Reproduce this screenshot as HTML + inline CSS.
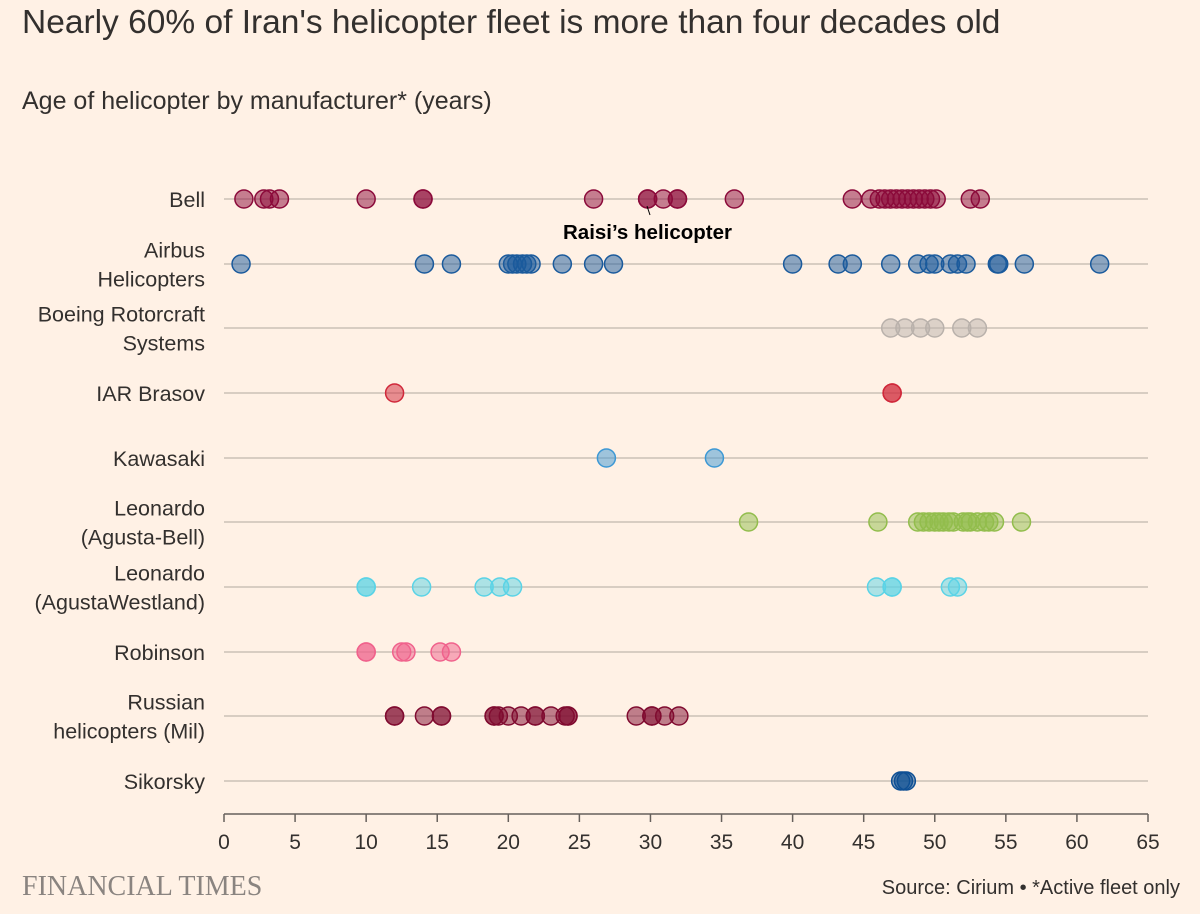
<!DOCTYPE html>
<html><head><meta charset="utf-8"><style>
body{margin:0;background:#fff1e5;font-family:"Liberation Sans",sans-serif;}
svg{display:block}
</style></head><body>
<svg width="1200" height="914" id="c">
<rect width="1200" height="914" fill="#fff1e5"/>
<text x="22" y="33" font-size="33.5" fill="#33302e">Nearly 60% of Iran's helicopter fleet is more than four decades old</text>
<text x="22" y="109" font-size="25" fill="#33302e">Age of helicopter by manufacturer* (years)</text>
<g id="grid"></g><g id="marks"></g>
<text x="563" y="239" font-size="20.5" font-weight="bold" fill="#000">Raisi’s helicopter</text>
<line x1="647" y1="206" x2="650" y2="215" stroke="#000" stroke-width="1"/>
<text x="22" y="895" font-size="28" font-family="Liberation Serif,serif" fill="#8a8480">FINANCIAL TIMES</text>
<text x="1180" y="894" font-size="20" fill="#33302e" text-anchor="end">Source: Cirium • *Active fleet only</text>
</svg>
<script>
const categories=["Bell","Airbus|Helicopters","Boeing Rotorcraft|Systems","IAR Brasov","Kawasaki","Leonardo|(Agusta-Bell)","Leonardo|(AgustaWestland)","Robinson","Russian|helicopters (Mil)","Sikorsky"];
const bell=[1.4,2.8,3.2,3.9,10,14,14,26,29.8,29.8,30.9,31.9,31.9,35.9,44.2,45.5,46.1,46.5,46.9,47.3,47.7,48.1,48.5,48.9,49.3,49.7,50.1,52.5,53.2];
const airbus=[1.2,14.1,16,20,20.3,20.6,21,21.3,21.6,23.8,26,27.4,40,43.2,44.2,46.9,48.8,49.6,50,51.1,51.6,52.2,54.4,54.5,56.3,61.6];
const boeing=[46.9,47.9,49,50,51.9,53];
const iar=[12,47,47];
const kawasaki=[26.9,34.5];
const leoAB=[36.9,46,48.8,49.2,49.6,50,50.3,50.6,51,51.3,52,52.5,52.3,53,53.5,53.8,54.2,56.1];
const leoAW=[10,10,13.9,18.3,19.4,20.3,45.9,47,47,51.1,51.6];
const robinson=[10,10,12.5,12.8,15.2,16];
const russian=[12,12,14.1,15.3,15.3,19,19,19.3,20,20.9,21.9,21.9,23,24,24.2,24.2,29,30.1,30.1,31,32];
const sikorsky=[47.6,48,47.8];
const series=[bell,airbus,boeing,iar,kawasaki,leoAB,leoAW,robinson,russian,sikorsky];
const colors=["#8b0a3a","#1a5a9c","#b9b1ab","#d0283a","#3d98d4","#92bd4c","#5ad3e6","#f0628c","#800b30","#0e4f94"];
const xTicks=[0,5,10,15,20,25,30,35,40,45,50,55,60,65];
const rowY=[199,264,328,393,458,522,587,652,716,781];
const NS="http://www.w3.org/2000/svg";
const x=v=>224+v*924/65;
const grid=document.getElementById('grid'),marks=document.getElementById('marks');
function mk(t,a,p){const e=document.createElementNS(NS,t);for(const k in a)e.setAttribute(k,a[k]);p.appendChild(e);return e;}
categories.forEach((c,i)=>{
 const l=mk('line',{x1:224,x2:1148,y1:rowY[i],y2:rowY[i],stroke:'#ccc1b7','stroke-width':1.5},grid);
 
 
 const parts=c.split('|');
 const t=mk('text',{x:205,'text-anchor':'end','font-size':21.5,fill:'#33302e'},grid);
 
 
 parts.forEach((p,j)=>{const ts=mk('tspan',{x:205,y:rowY[i]+8+(j-(parts.length-1)/2)*29},t);ts.textContent=p;});
 series[i].forEach(v=>{
  const d=mk('circle',{cx:x(v),cy:rowY[i],r:9,fill:colors[i],'fill-opacity':0.5,stroke:colors[i],'stroke-width':1.5},marks);
  
  
 });
});
const ax=mk('line',{x1:224,x2:1148,y1:814,y2:814,stroke:'#66605c','stroke-width':1.5},grid);


xTicks.forEach(v=>{
 const tk=mk('line',{x1:x(v),x2:x(v),y1:814,y2:822,stroke:'#66605c','stroke-width':1.5},grid);
 
 
 const t=mk('text',{x:x(v),y:849,'text-anchor':'middle','font-size':21,fill:'#33302e'},grid);
 t.textContent=v;
 
 
});
</script>
</body></html>
